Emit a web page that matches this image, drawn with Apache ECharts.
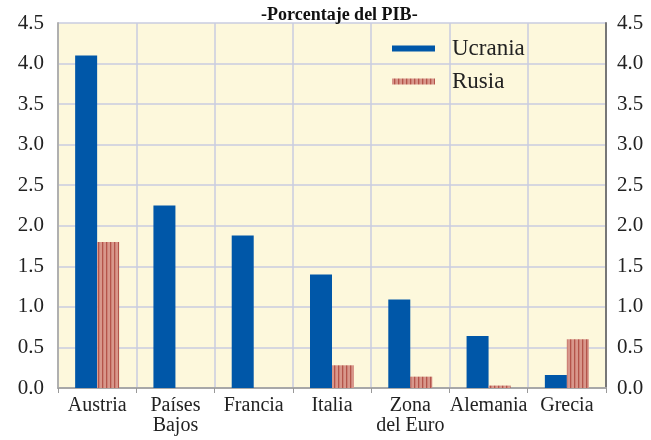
<!DOCTYPE html>
<html>
<head>
<meta charset="utf-8">
<script src="https://cdn.jsdelivr.net/npm/echarts@6/dist/echarts.min.js"></script>
<style>
  html, body { margin: 0; padding: 0; background: #fff; }
  #main { width: 651px; height: 440px; }
</style>
</head>
<body>
<div id="main"></div>
<script>
// datos
var paises = ['Austria', 'Países\nBajos', 'Francia', 'Italia', 'Zona\ndel Euro', 'Alemania', 'Grecia'];
var ucrania = [4.1, 2.25, 1.88, 1.4, 1.09, 0.64, 0.16];
var rusia = [1.8, 0, 0, 0.28, 0.14, 0.03, 0.6];

// rayado de las barras de Rusia
function rayas() {
  var c = document.createElement('canvas');
  c.width = 4;
  c.height = 4;
  var ctx = c.getContext('2d');
  ctx.fillStyle = '#d8978b';
  ctx.fillRect(0, 0, 4, 4);
  ctx.fillStyle = '#b4544a';
  ctx.fillRect(2, 0, 1.3, 4);
  return c;
}

var serif = 'Liberation Serif';
var chart = echarts.init(document.getElementById('main'));
chart.setOption({
  animation: false,
  title: {
    text: '-Porcentaje del PIB-',
    left: 256,
    top: 1,
    textStyle: { fontFamily: serif, fontWeight: 'bold', fontSize: 18, color: '#111' }
  },
  legend: {
    orient: 'vertical',
    left: 387,
    top: 32,
    itemWidth: 43,
    itemHeight: 6,
    itemGap: 10,
    icon: 'rect',
    data: ['Ucrania', 'Rusia'],
    textStyle: { fontFamily: serif, fontSize: 23, color: '#222', padding: [0, 0, 0, 12] }
  },
  grid: {
    left: 58,
    right: 45,
    top: 23,
    bottom: 52,
    show: true,
    backgroundColor: '#fdf8dc',
    borderWidth: 0
  },
  xAxis: {
    type: 'category',
    data: paises,
    axisLine: { lineStyle: { color: '#a8a8a8', width: 2 } },
    axisTick: { show: true, length: 5, lineStyle: { color: '#999' } },
    axisLabel: { fontFamily: serif, fontSize: 20, color: '#222', lineHeight: 20, margin: 8, interval: 0 },
    splitLine: { show: true, lineStyle: { color: '#c9cde0', width: 1.5 } }
  },
  yAxis: [
    {
      type: 'value',
      min: 0,
      max: 4.5,
      interval: 0.5,
      axisLine: { show: true, lineStyle: { color: '#b0b0b0', width: 2 } },
      axisTick: { show: false },
      axisLabel: {
        fontFamily: serif, fontSize: 21, color: '#222', margin: 14,
        formatter: function (v) { return v.toFixed(1); }
      },
      splitLine: { lineStyle: { color: '#c9cde0', width: 1.5 } }
    },
    {
      type: 'value',
      min: 0,
      max: 4.5,
      interval: 0.5,
      position: 'right',
      axisLine: { show: true, lineStyle: { color: '#777', width: 2 } },
      axisTick: { show: false },
      axisLabel: {
        fontFamily: serif, fontSize: 21, color: '#222', margin: 11,
        formatter: function (v) { return v.toFixed(1); }
      },
      splitLine: { show: false }
    }
  ],
  series: [
    {
      name: 'Ucrania',
      type: 'bar',
      barWidth: 22,
      barGap: '0%',
      itemStyle: { color: '#0057a8' },
      data: ucrania
    },
    {
      name: 'Rusia',
      type: 'bar',
      barWidth: 22,
      itemStyle: { color: { image: rayas(), repeat: 'repeat' } },
      data: rusia
    }
  ]
});
</script>
</body>
</html>
